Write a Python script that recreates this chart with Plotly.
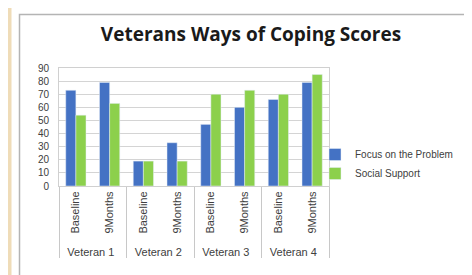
import plotly.graph_objects as go

veterans = ["Veteran 1", "Veteran 1", "Veteran 2", "Veteran 2",
            "Veteran 3", "Veteran 3", "Veteran 4", "Veteran 4"]
periods = ["Baseline", "9Months", "Baseline", "9Months",
           "Baseline", "9Months", "Baseline", "9Months"]
focus_problem = [73, 79, 19, 33, 47, 60, 66, 79]
social_support = [54, 63, 19, 19, 70, 73, 70, 85]
y_ticks = [0, 10, 20, 30, 40, 50, 60, 70, 80, 90]

W, H = 472, 275
L, R, T, B = 51, 321, 60, 178

def px(x):
    return (x - L) / (R - L)

def py(y):
    return (B - y) / (B - T)

fig = go.Figure()
fig.add_trace(go.Bar(x=[veterans, periods], y=focus_problem, name="Focus on the Problem",
                     marker_color="#4472c4", legendgroup="a"))
fig.add_trace(go.Bar(x=[veterans, periods], y=social_support, name="Social Support",
                     marker_color="#8cd04c", legendgroup="b"))

shapes = [
    dict(type="rect", xref="paper", yref="paper", x0=px(0), x1=px(3.5), y0=py(H), y1=py(0),
         fillcolor="#efdcb8", line_width=0, layer="below"),
    dict(type="rect", xref="paper", yref="paper", x0=px(11.5), x1=px(480), y0=py(290), y1=py(6.5),
         line=dict(color="#b4b4b4", width=1.5), fillcolor="rgba(0,0,0,0)", layer="below"),
]

fig.update_layout(
    width=W, height=H,
    margin=dict(l=L, r=W - R, t=T, b=H - B),
    paper_bgcolor="white", plot_bgcolor="white",
    font=dict(family="Liberation Sans, Arial", color="#404040"),
    title=dict(text="<b>Veterans Ways of Coping Scores</b>", x=243 / W, xanchor="center",
               y=1 - 26 / H, yanchor="middle",
               font=dict(family="Open Sans", size=19, color="#1a1a1a")),
    barmode="group", bargap=0.4, bargroupgap=0,
    showlegend=True,
    legend=dict(x=px(307), y=py(132), xanchor="left", yanchor="top",
                font=dict(size=10, color="#404040"), tracegroupgap=0,
                itemwidth=30, bgcolor="rgba(0,0,0,0)"),
    shapes=shapes,
)
fig.update_yaxes(range=[0, 90], tickvals=y_ticks, showgrid=True, gridcolor="#d4d4d4",
                 gridwidth=1, tickfont=dict(size=10, color="#404040"), zeroline=False,
                 showline=True, linecolor="#d0d0d0", ticks="", mirror=True,
                 ticklabelstandoff=7)
fig.update_xaxes(type="multicategory", tickangle=-90, showdividers=True,
                 dividercolor="#c8c8c8", dividerwidth=1, tickfont=dict(size=11, color="#404040"),
                 showline=True, linecolor="#d0d0d0", mirror=True)

fig.write_html("out.html")
